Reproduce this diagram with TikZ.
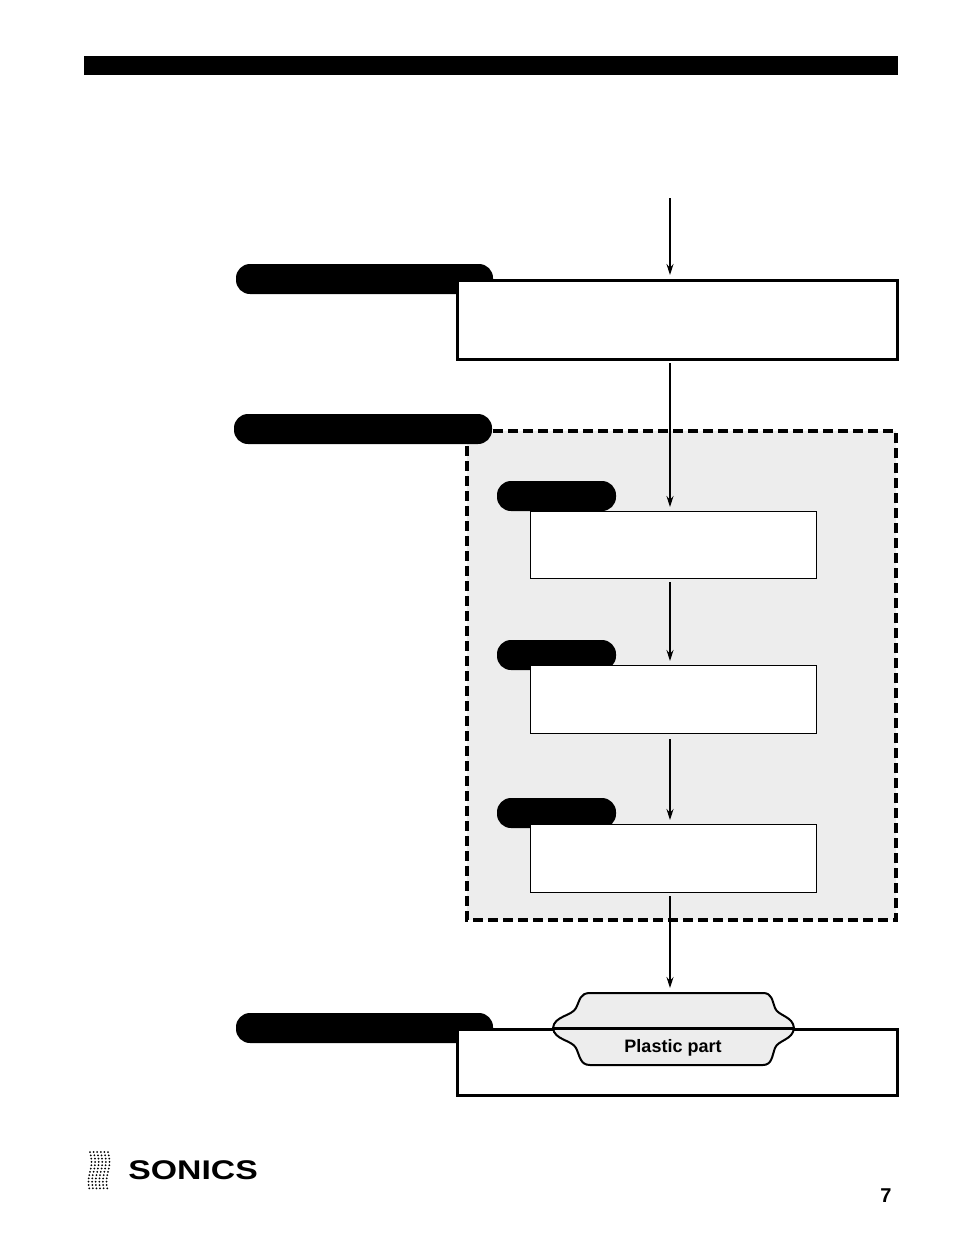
\documentclass[tikz,border=0pt]{standalone}
\usepackage{fontspec}
\setmainfont{Liberation Sans}
\usetikzlibrary{arrows.meta}
\begin{document}
\begin{tikzpicture}[x=1pt,y=-1pt,
 pill/.style={fill=black,rounded corners=14pt},
 boxs/.style={draw=black,fill=white},
 arr/.style={-{Stealth[length=11pt,width=7pt]},line width=1.2pt}]
\useasboundingbox (0,0) rectangle (954,1235);
\fill (84,56) rectangle (898,75);
% dashed region
\draw[fill=black!7,line width=3.2pt,dash pattern=on 10pt off 5pt] (467,431) rectangle (896,920);
% pills
\fill[pill] (236,264) rectangle (493,294);
\fill[pill] (234,414) rectangle (492,444);
\fill[pill] (497,481) rectangle (616,511);
\fill[pill] (497,640) rectangle (616,670);
\fill[pill] (497,798) rectangle (616,828);
\fill[pill] (236,1013) rectangle (493,1043);
% boxes
\node[boxs,line width=3pt,minimum width=440pt,minimum height=79pt,anchor=north west] (b1) at (456,279) {};
\node[boxs,line width=1.3pt,minimum width=286pt,minimum height=67pt,anchor=north west] (b2) at (530,511) {};
\node[boxs,line width=1.3pt,minimum width=286pt,minimum height=68pt,anchor=north west] (b3) at (530,665) {};
\node[boxs,line width=1.3pt,minimum width=286pt,minimum height=68pt,anchor=north west] (b4) at (530,824) {};
\node[boxs,line width=3pt,minimum width=440pt,minimum height=66pt,anchor=north west] (b5) at (456,1028) {};
% plastic part
\draw[line width=2pt,fill=black!7] (590,993) -- (763,993) .. controls (772,993) and (772,1000) .. (775,1008)
 .. controls (778,1016) and (793,1016) .. (794,1028) .. controls (793,1040) and (778,1040) .. (775,1048)
 .. controls (772,1056) and (772,1065) .. (763,1065) -- (590,1065)
 .. controls (580,1065) and (580,1056) .. (576,1048) .. controls (572,1040) and (554,1040) .. (553,1028)
 .. controls (554,1016) and (572,1016) .. (576,1008) .. controls (580,1000) and (580,993) .. (590,993) -- cycle;
\draw[line width=3pt] (553,1028) -- (794,1028);
\node[font=\bfseries\fontsize{18}{20}\selectfont] (pp) at (673,1048) {Plastic part};
% arrows
\coordinate (a0) at (670,198);
\coordinate (a1) at (670,363);
\coordinate (a2) at (670,582);
\coordinate (a3) at (670,739);
\coordinate (a4) at (670,896);
\draw[arr] (a0) -- (670,275);
\draw[arr] (a1) -- (670,507);
\draw[arr] (a2) -- (670,661);
\draw[arr] (a3) -- (670,820);
\draw[arr] (a4) -- (670,988);
% logo
\foreach \r in {0,...,11}{\foreach \c in {0,...,5}{
 \fill ({90+\c*3.6+1.5*sin(\r*30)},{1152+\r*3.3}) circle (1pt);}}
\node[font=\bfseries\fontsize{27}{30}\selectfont,anchor=west,xscale=1.25] (logo) at (124,1170) {SONICS};
\node[font=\bfseries\fontsize{20}{22}\selectfont] (pg) at (886,1196) {7};
\end{tikzpicture}
\end{document}
